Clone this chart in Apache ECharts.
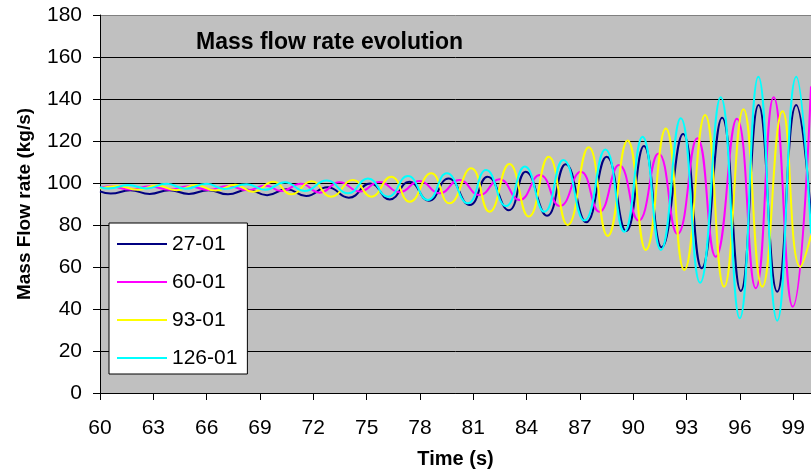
<!DOCTYPE html>
<html>
<head>
<meta charset="utf-8">
<script src="https://cdn.jsdelivr.net/npm/echarts@6/dist/echarts.min.js"></script>
<style>
html,body{margin:0;padding:0;background:#fff;}
#chart{width:811px;height:474px;}
</style>
</head>
<body>
<div id="chart"></div>
<script>
var seriesNames = ['27-01', '60-01', '93-01', '126-01'];
var seriesColors = ['#000080', '#FF00FF', '#FFFF00', '#00FFFF'];

// [time (s), mass flow rate (kg/s)] read at turning points of each curve
var s27 = [[60.0,96.0],[60.6,95.0],[61.7,96.5],[62.8,94.8],[63.9,96.6],[65.0,94.8],[66.1,96.6],[67.2,94.6],[68.3,96.8],[69.4,94.2],[70.5,97.0],[71.6,93.8],[72.8,98.0],[74.0,93.0],[75.2,99.8],[76.3,92.2],[77.4,100.6],[78.5,91.6],[79.6,102.2],[80.8,89.5],[81.8,103.0],[83.0,87.0],[83.95,105.4],[85.15,84.4],[86.2,108.9],[87.35,81.3],[88.5,112.5],[89.6,77.1],[90.6,117.6],[91.6,69.4],[92.8,123.3],[93.85,59.4],[95.0,131.1],[96.05,48.6],[97.05,137.1],[98.1,48.2],[99.17,137.1],[100,85]];
var s60 = [[60.0,97.6],[60.6,98.4],[61.7,96.9],[62.8,98.4],[63.9,96.8],[65.0,98.5],[66.1,96.7],[67.2,98.6],[68.3,96.5],[69.3,98.8],[70.2,96.2],[71.3,99.6],[72.36,95.4],[73.48,100.3],[74.6,96.0],[75.73,100.5],[76.85,95.6],[77.98,101.0],[79.1,95.1],[80.22,101.4],[81.35,94.3],[82.47,101.8],[83.6,91.9],[84.75,103.8],[85.88,89.0],[87.05,105.4],[88.09,86.3],[89.2,108.6],[90.3,82.1],[91.42,114.1],[92.49,75.7],[93.6,121.3],[94.64,64.9],[95.83,130.6],[96.89,49.9],[97.9,140.8],[98.97,41.1],[100,146]];
var s93 = [[60.0,97.4],[61.0,98.6],[62.1,96.8],[63.2,98.8],[64.3,96.6],[65.4,99.0],[66.5,96.4],[67.6,99.2],[68.6,95.8],[69.75,100.6],[70.76,94.6],[71.9,100.8],[73.0,93.5],[74.23,101.4],[75.26,93.5],[76.38,103.0],[77.42,91.1],[78.63,104.6],[79.66,90.3],[80.88,107.0],[81.91,86.3],[83.03,109.0],[84.12,84.0],[85.24,112.5],[86.31,80.0],[87.49,117.0],[88.56,74.8],[89.68,120.2],[90.71,68.1],[91.83,126.0],[92.87,58.6],[94.04,132.4],[95.11,50.6],[96.2,135.1],[97.26,50.6],[98.4,134.2],[99.4,60.1],[100,75]];
var s126 = [[60.0,98.0],[60.5,97.4],[61.6,99.0],[62.6,97.4],[63.75,99.6],[64.8,97.3],[66.0,99.6],[67.0,97.2],[68.25,99.4],[69.3,96.8],[70.4,100.4],[71.5,96.2],[72.75,101.2],[73.95,95.1],[75.07,102.2],[76.2,93.5],[77.32,103.3],[78.44,91.9],[79.51,104.6],[80.69,90.3],[81.72,106.2],[82.84,89.0],[83.9,107.8],[85.0,86.3],[86.07,111.0],[87.25,82.1],[88.43,116.0],[89.49,76.8],[90.52,122.0],[91.55,68.1],[92.67,130.8],[93.76,52.5],[94.92,140.8],[95.99,35.6],[97.04,150.6],[98.1,34.4],[99.17,150.6],[100,76]];
var seriesData = [s27, s60, s93, s126];

var FONT = '"Liberation Sans", Arial, sans-serif';
var chart = echarts.init(document.getElementById('chart'), null, {renderer: 'canvas'});

var series = seriesNames.map(function (n, i) {
  return {
    name: n,
    type: 'line',
    data: seriesData[i],
    smooth: 0.5,
    symbol: 'none',
    lineStyle: {color: seriesColors[i], width: 2},
    itemStyle: {color: seriesColors[i]},
    animation: false
  };
});

var splitColors = ['#000','#000','#000','#000','#000','#000','#000','#000','#000','#808080'];

chart.setOption({
  backgroundColor: '#ffffff',
  animation: false,
  title: {
    text: 'Mass flow rate evolution',
    left: 196, top: 31, padding: 0,
    textStyle: {fontFamily: FONT, fontSize: 23, fontWeight: 'bold', color: '#000'}
  },
  legend: {
    orient: 'vertical',
    left: 109, top: 223,
    backgroundColor: '#ffffff',
    borderColor: '#000', borderWidth: 1, borderRadius: 0,
    padding: [10, 10, 5, 8],
    itemGap: 16,
    itemWidth: 50, itemHeight: 2,
    icon: 'rect',
    textStyle: {fontFamily: FONT, fontSize: 21, color: '#000', lineHeight: 22, padding: [0,0,0,0]},
    data: seriesNames
  },
  grid: {
    left: 100, top: 15, right: 0, bottom: 81,
    show: true, backgroundColor: '#C0C0C0', borderWidth: 0,
    containLabel: false
  },
  xAxis: {
    type: 'value', min: 60, max: 100, interval: 3,
    name: 'Time (s)', nameLocation: 'middle', nameGap: 56,
    nameTextStyle: {fontFamily: FONT, fontSize: 20, fontWeight: 'bold', color: '#000'},
    axisLine: {show: true, onZero: false, lineStyle: {color: '#000', width: 1}},
    axisTick: {show: true, inside: false, length: 7, lineStyle: {color: '#000'}},
    axisLabel: {fontFamily: FONT, fontSize: 21, color: '#000', margin: 25, showMaxLabel: false},
    splitLine: {show: false}
  },
  yAxis: {
    type: 'value', min: 0, max: 180, interval: 20,
    name: 'Mass Flow rate (kg/s)', nameLocation: 'middle', nameGap: 66,
    nameTextStyle: {fontFamily: FONT, fontSize: 19, fontWeight: 'bold', color: '#000'},
    axisLine: {show: true, lineStyle: {color: '#000', width: 1}},
    axisTick: {show: true, inside: false, length: 7, lineStyle: {color: '#000'}},
    axisLabel: {fontFamily: FONT, fontSize: 21, color: '#000', margin: 18},
    splitLine: {show: true, lineStyle: {color: splitColors, width: 1}}
  },
  series: series
});
</script>
</body>
</html>
